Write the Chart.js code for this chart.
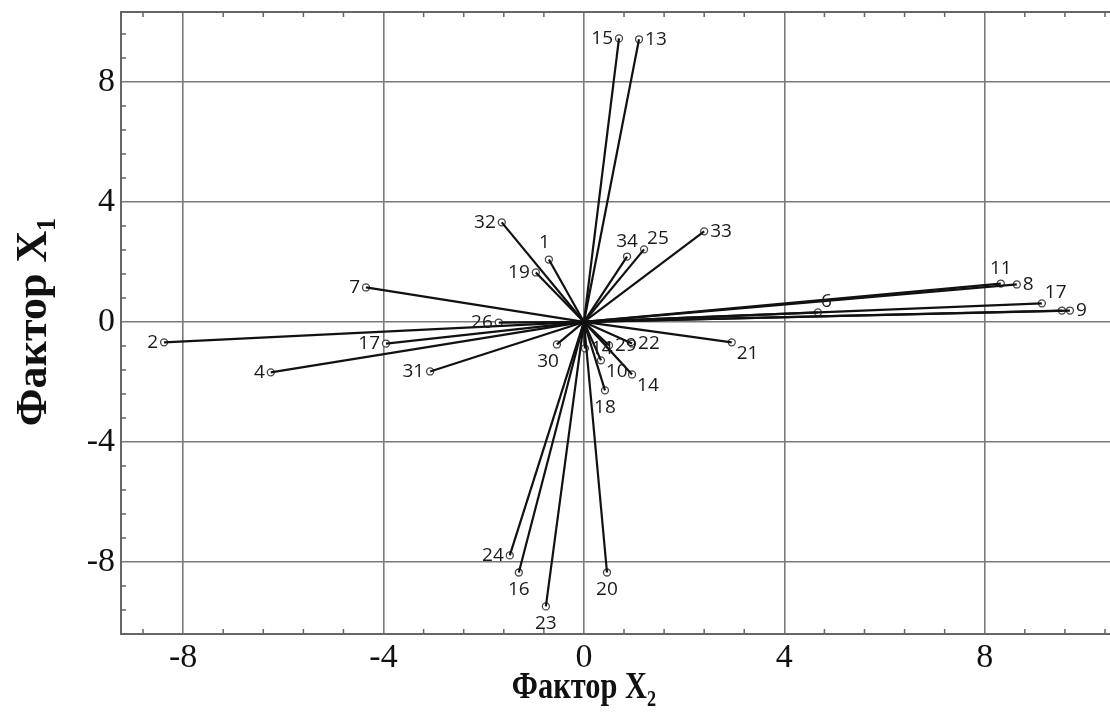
<!DOCTYPE html>
<html lang="ru">
<head>
<meta charset="UTF-8">
<title>Фактор X1 / Фактор X2</title>
<script src="https://cdn.jsdelivr.net/npm/chart.js"></script>
<style>
  * { margin: 0; padding: 0; box-sizing: border-box; }
  body { background: #fff; width: 1110px; height: 713px; overflow: hidden; }
  .chart-box { position: relative; width: 1110px; height: 713px; }
</style>
</head>
<body>
<div class="chart-box"><canvas id="chart"></canvas></div>
<script>
  // point names, factor X2 (horizontal) and factor X1 (vertical) loadings
  const pointNames = ['15', '13', '32', '1', '19', '34', '25', '33', '7', '2', '17', '4', '31', '26', '30', '21',
    '22', '29', '14', '10', '14', '18', '11', '8', '17', '', '9', '6', '24', '16', '23', '20'];
  const factorX2 = [0.70, 1.10, -1.64, -0.70, -0.96, 0.86, 1.20, 2.40, -4.35, -8.38, -3.95, -6.25, -3.07, -1.70, -0.54, 2.95,
    0.96, 0.50, 0.02, 0.34, 0.96, 0.42, 8.32, 8.64, 9.14, 9.54, 9.70, 4.67, -1.48, -1.30, -0.76, 0.46];
  const factorX1 = [9.45, 9.42, 3.32, 2.08, 1.65, 2.18, 2.42, 3.02, 1.15, -0.68, -0.72, -1.68, -1.65, -0.02, -0.75, -0.68,
    -0.72, -0.78, -0.88, -1.28, -1.75, -2.28, 1.28, 1.25, 0.62, 0.38, 0.38, 0.32, -7.78, -8.35, -9.48, -8.35];
  // where the name sits around its marker
  const nameSide = ['l', 'r', 'l', 'al', 'l', 'a', 'ar', 'r', 'l', 'l', 'l', 'l', 'l', 'l', 'bl', 'br',
    'r', 'r', 'r', 'br', 'br', 'b', 'a', 'r', 'ar', '', 'r', 'ar', 'l', 'b', 'b', 'b'];
  const axisTicks = [-8, -4, 0, 4, 8];
  const minorStep = 0.8;

  const gridColor = '#7a7a7a';
  const frameColor = '#666';

  const lineSets = factorX2.map((x, i) => ({
    data: [{ x: 0, y: 0 }, { x: x, y: factorX1[i] }],
    showLine: true,
    borderColor: '#111',
    borderWidth: 2.2,
    pointRadius: 0
  }));

  const markerSet = {
    data: factorX2.map((x, i) => ({ x: x, y: factorX1[i] })),
    showLine: false,
    pointRadius: 3.5,
    pointBackgroundColor: '#fff',
    pointBorderColor: '#444',
    pointBorderWidth: 1.3
  };

  const framePlugin = {
    id: 'frame',
    beforeDatasetsDraw(chart) {
      const { ctx, chartArea: a, scales: { x, y } } = chart;
      ctx.save();
      ctx.strokeStyle = frameColor;
      ctx.lineWidth = 2;
      ctx.beginPath();
      ctx.moveTo(a.left, a.top);
      ctx.lineTo(a.right, a.top);
      ctx.stroke();
      // small inward ticks
      ctx.lineWidth = 1.5;
      ctx.beginPath();
      for (let k = Math.ceil(x.min / minorStep); k <= Math.floor(x.max / minorStep); k++) {
        if (k % 5 === 0) continue;
        const px = x.getPixelForValue(k * minorStep);
        ctx.moveTo(px, a.bottom); ctx.lineTo(px, a.bottom - 5);
        ctx.moveTo(px, a.top); ctx.lineTo(px, a.top + 5);
      }
      for (let k = Math.ceil(y.min / minorStep); k <= Math.floor(y.max / minorStep); k++) {
        if (k % 5 === 0) continue;
        const py = y.getPixelForValue(k * minorStep);
        ctx.moveTo(a.left, py); ctx.lineTo(a.left + 5, py);
      }
      ctx.stroke();
      ctx.restore();
    },
    afterDatasetsDraw(chart) {
      const { ctx, scales: { x, y } } = chart;
      ctx.save();
      ctx.font = '19px "Open Sans"';
      ctx.fillStyle = '#1a1a1a';
      pointNames.forEach((name, i) => {
        if (!name) return;
        let px = x.getPixelForValue(factorX2[i]);
        let py = y.getPixelForValue(factorX1[i]);
        const side = nameSide[i];
        ctx.textAlign = 'center';
        ctx.textBaseline = 'middle';
        if (side === 'l') { ctx.textAlign = 'right'; px -= 6; }
        if (side === 'r') { ctx.textAlign = 'left'; px += 6; }
        if (side === 'a') { py -= 15; }
        if (side === 'b') { py += 17; }
        if (side === 'al') { ctx.textAlign = 'right'; px += 1; py -= 17; }
        if (side === 'ar') { ctx.textAlign = 'left'; px += 3; py -= 11; }
        if (side === 'bl') { ctx.textAlign = 'right'; px += 2; py += 17; }
        if (side === 'br') { ctx.textAlign = 'left'; px += 5; py += 11; }
        ctx.fillText(name, px, py);
      });
      ctx.restore();
    },
    afterDraw(chart) {
      const { ctx, scales: { x, y } } = chart;
      ctx.save();
      ctx.fillStyle = '#111';
      ctx.textAlign = 'center';
      ctx.textBaseline = 'middle';
      ctx.font = 'bold 38px "Liberation Serif"';
      ctx.translate(x.getPixelForValue(0), 688);
      ctx.scale(0.8, 1);
      ctx.fillText('Фактор X₂', 0, 0);
      ctx.restore();

      ctx.save();
      ctx.fillStyle = '#111';
      ctx.textAlign = 'center';
      ctx.textBaseline = 'middle';
      ctx.font = 'bold 44px "Liberation Serif"';
      ctx.translate(35, y.getPixelForValue(0));
      ctx.rotate(-Math.PI / 2);
      ctx.fillText('Фактор X₁', 0, 0);
      ctx.restore();
    }
  };

  new Chart(document.getElementById('chart'), {
    type: 'scatter',
    data: { datasets: [...lineSets, markerSet] },
    options: {
      responsive: true,
      maintainAspectRatio: false,
      animation: false,
      layout: { autoPadding: false, padding: { top: 12, right: 0, left: 0, bottom: 0 } },
      plugins: { legend: { display: false }, tooltip: { enabled: false } },
      scales: {
        x: {
          type: 'linear',
          min: -9.24,
          max: 10.5,
          afterBuildTicks: s => { s.ticks = axisTicks.map(v => ({ value: v })); },
          afterFit: s => { s.height = 79; s.paddingLeft = 0; s.paddingRight = 0; },
          ticks: { font: { family: 'Liberation Serif', size: 34 }, color: '#111', padding: 4, maxRotation: 0 },
          grid: { color: gridColor, lineWidth: 1.6, drawTicks: false },
          border: { display: true, color: frameColor, width: 2 }
        },
        y: {
          type: 'linear',
          min: -10.4,
          max: 10.33,
          afterBuildTicks: s => { s.ticks = axisTicks.map(v => ({ value: v })); },
          afterFit: s => { s.width = 121; s.paddingTop = 0; s.paddingBottom = 0; },
          ticks: { font: { family: 'Liberation Serif', size: 34 }, color: '#111', padding: 6 },
          grid: { color: gridColor, lineWidth: 1.6, drawTicks: false },
          border: { display: true, color: frameColor, width: 2 }
        }
      }
    },
    plugins: [framePlugin]
  });
</script>
</body>
</html>
